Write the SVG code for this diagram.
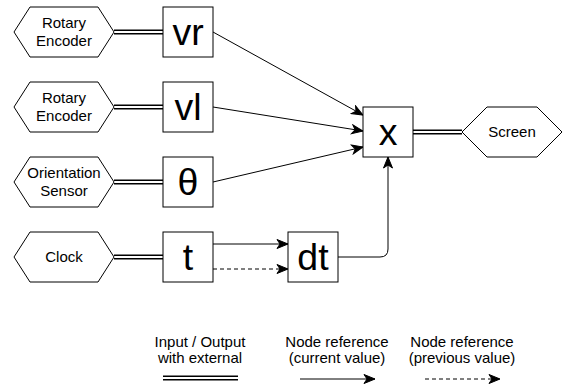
<svg xmlns="http://www.w3.org/2000/svg" width="563" height="385" viewBox="0 0 563 385">
<style>
.shape{fill:#fff;stroke:#000;stroke-width:1}
.lbl{font-family:"Liberation Sans",Arial,sans-serif;font-size:15px;fill:#000;text-anchor:middle}
.big{font-family:"Liberation Sans",Arial,sans-serif;font-size:37.5px;fill:#000;text-anchor:middle}
.dblo{fill:none;stroke:#000;stroke-width:5}
.dbli{fill:none;stroke:#fff;stroke-width:2}
.arr{fill:none;stroke:#000;stroke-width:1;marker-end:url(#ah)}
.dash{stroke-dasharray:4 3}
</style>
<defs>
<marker id="ah" markerUnits="userSpaceOnUse" markerWidth="13" markerHeight="11" viewBox="0 0 13 11" refX="12" refY="5.5" orient="auto">
<path d="M1,1 L12,5.5 L1,10 L4,5.5 Z" fill="#000" stroke="#000" stroke-width="1" stroke-linejoin="miter"/>
</marker>
</defs>
<g id="connectors">
<path class="dblo" d="M114,32H163M114,107H163M114,182H163M114,257H163M413,132H462"/>
<path class="dbli" d="M113,32H164M113,107H164M113,182H164M113,257H164M412,132H463"/>
<path class="arr" d="M213,32L363,115"/>
<path class="arr" d="M213,107L363,131"/>
<path class="arr" d="M213,182L363,147"/>
<path class="arr" d="M213,244H288"/>
<path class="arr dash" d="M213,269H288"/>
<path class="arr" d="M338,257H380Q388,257 388,249V157"/>
</g>
<g id="enc1"><polygon class="shape" points="14,32 30,7 98,7 114,32 98,57 30,57"/><text class="lbl" x="64" y="28">Rotary</text><text class="lbl" x="64" y="46">Encoder</text></g>
<g id="enc2"><polygon class="shape" points="14,107 30,82 98,82 114,107 98,132 30,132"/><text class="lbl" x="64" y="103">Rotary</text><text class="lbl" x="64" y="121">Encoder</text></g>
<g id="orient"><polygon class="shape" points="14,182 30,157 98,157 114,182 98,207 30,207"/><text class="lbl" x="64" y="178">Orientation</text><text class="lbl" x="64" y="196">Sensor</text></g>
<g id="clock"><polygon class="shape" points="14,257 30,232 98,232 114,257 98,282 30,282"/><text class="lbl" x="64" y="262">Clock</text></g>
<g id="vr"><rect class="shape" x="163" y="7" width="50" height="50"/><text class="big" x="188" y="45">vr</text></g>
<g id="vl"><rect class="shape" x="163" y="82" width="50" height="50"/><text class="big" x="188" y="120">vl</text></g>
<g id="theta"><rect class="shape" x="163" y="157" width="50" height="50"/><text class="big" x="188" y="195">θ</text></g>
<g id="t"><rect class="shape" x="163" y="232" width="50" height="50"/><text class="big" x="188" y="270">t</text></g>
<g id="dt"><rect class="shape" x="288" y="232" width="50" height="50"/><text class="big" x="313" y="270">dt</text></g>
<g id="x"><rect class="shape" x="363" y="107" width="50" height="50"/><text class="big" x="388" y="145">x</text></g>
<g id="screen"><polygon class="shape" points="462,132 487,107 537,107 562,132 537,157 487,157"/><text class="lbl" x="512" y="137">Screen</text></g>
<g id="legend">
<text class="lbl" x="200" y="347">Input / Output</text><text class="lbl" x="200" y="363">with external</text>
<text class="lbl" x="337" y="347">Node reference</text><text class="lbl" x="337" y="363">(current value)</text>
<text class="lbl" x="462" y="347">Node reference</text><text class="lbl" x="462" y="363">(previous value)</text>
<path class="dblo" d="M163,378H238"/><path class="dbli" d="M162,378H239"/>
<path class="arr" d="M300,379H375"/>
<path class="arr dash" d="M425,379H500"/>
</g>
</svg>
